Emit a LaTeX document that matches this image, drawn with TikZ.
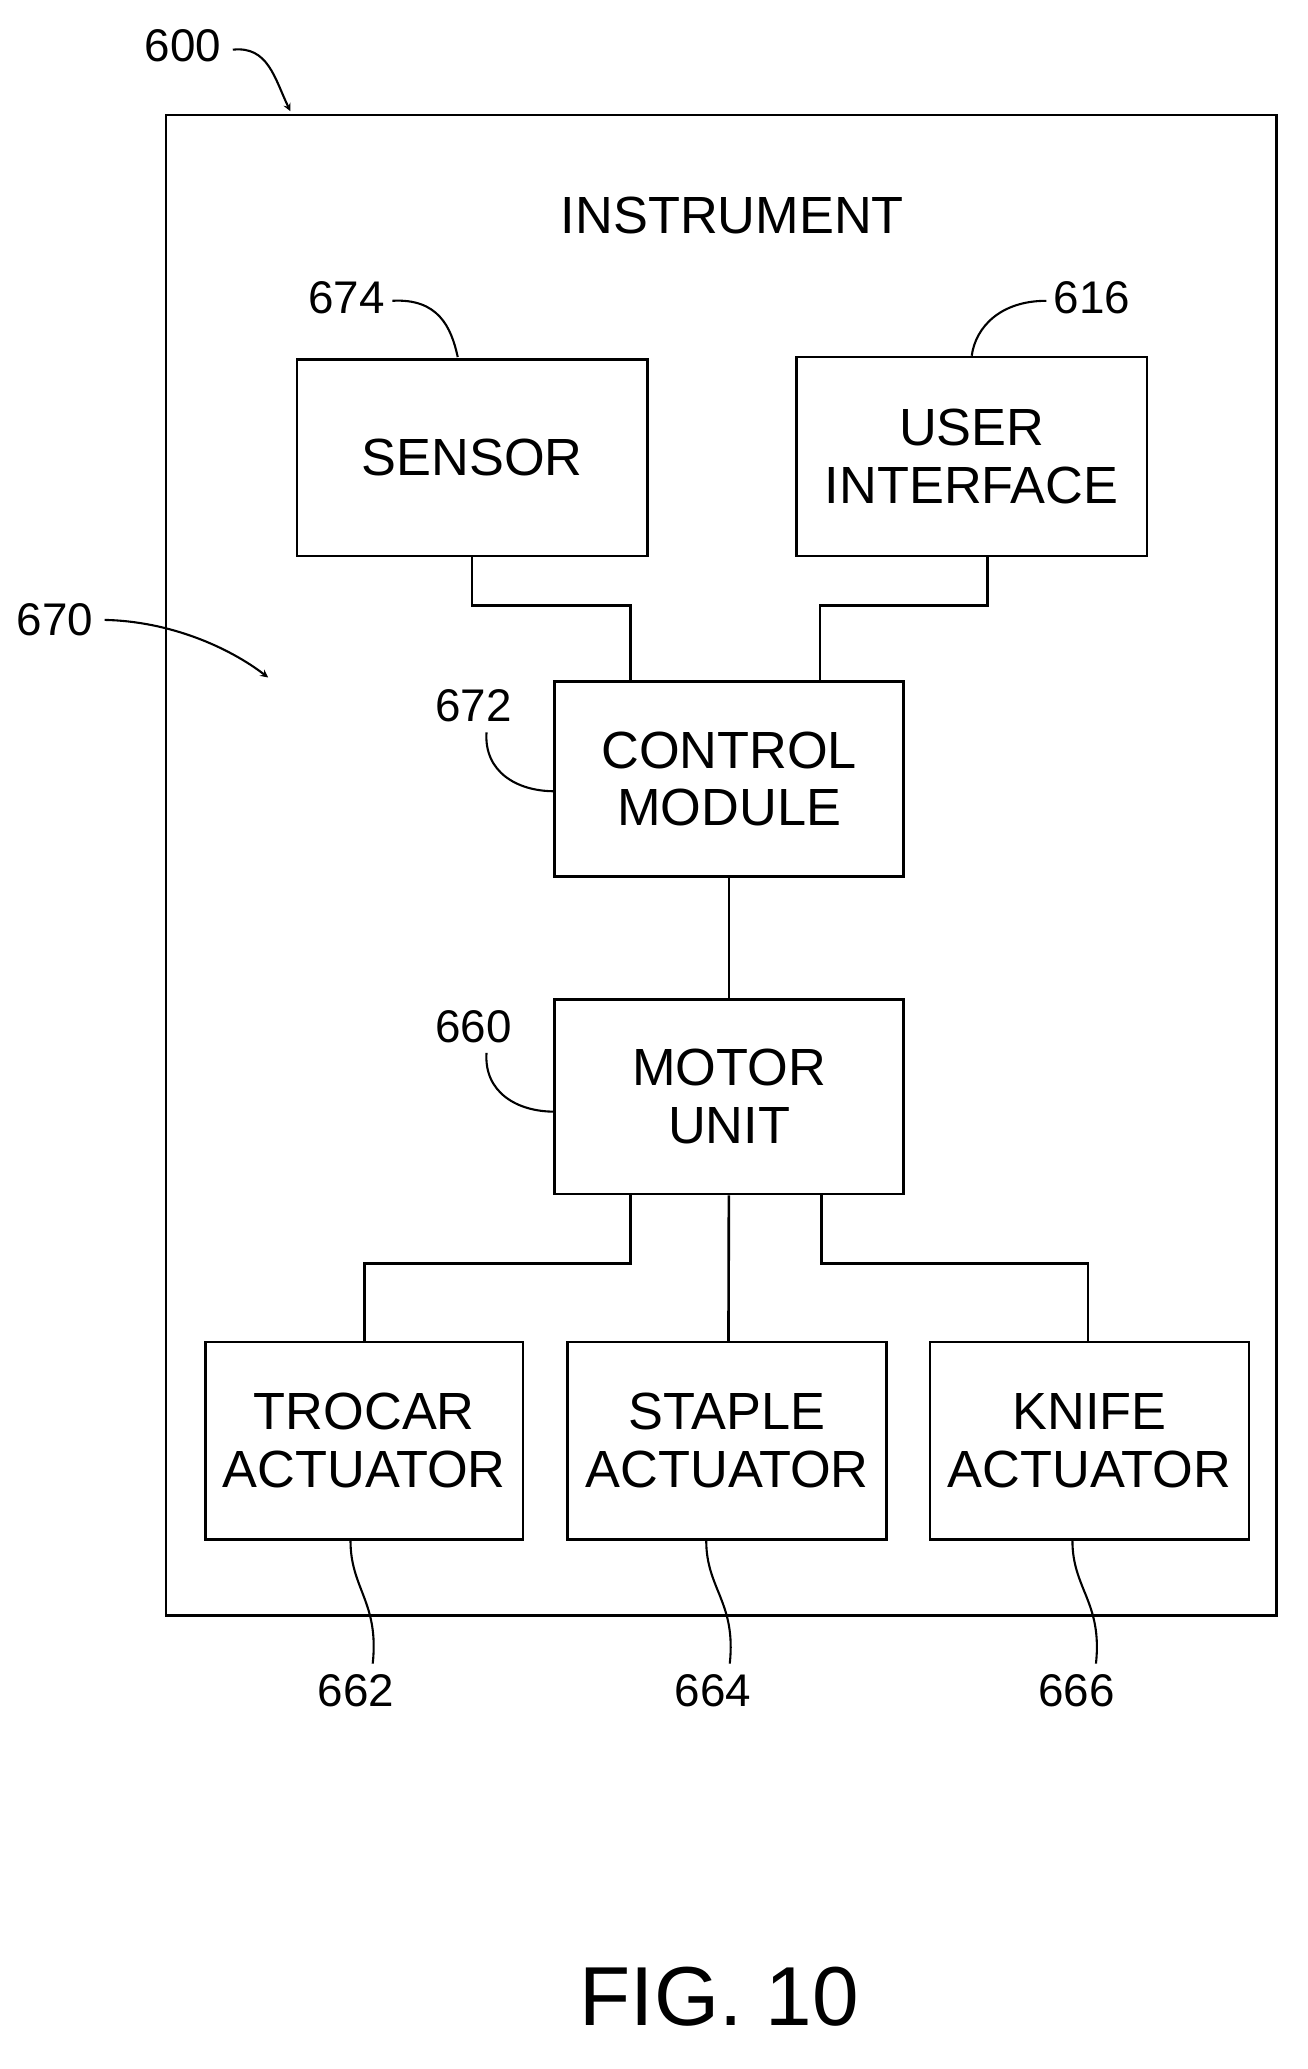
\documentclass[tikz,border=0pt]{standalone}
\usepackage{fontspec}
\setmainfont{Liberation Sans}
\begin{document}
\begin{tikzpicture}[x=1pt,y=-1pt,line width=2pt,
  box/.style={draw,line width=2pt,align=center,font=\fontsize{40}{44}\selectfont,inner sep=0pt},
  num/.style={font=\fontsize{35}{38}\selectfont},
  lead/.style={line width=1.6pt}]
\useasboundingbox (0,0) rectangle (1000,1582);
\node[draw,line width=2pt,minimum width=849pt,minimum height=1147pt,anchor=north west] (outer) at (126,87) {};
\node[font=\fontsize{40}{44}\selectfont] (title) at (560,165) {INSTRUMENT};
\node[box,minimum width=268pt,minimum height=150pt] (sen) at (361,350) {SENSOR};
\node[box,minimum width=268pt,minimum height=152pt] (ui) at (743,349) {USER\\INTERFACE};
\node[box,minimum width=267pt,minimum height=149pt] (cm) at (557.5,595.5) {CONTROL\\MODULE};
\node[box,minimum width=267pt,minimum height=149pt] (mu) at (557.5,838.5) {MOTOR\\UNIT};
\node[box,minimum width=243pt,minimum height=151pt] (tr) at (278.5,1101.5) {TROCAR\\ACTUATOR};
\node[box,minimum width=244pt,minimum height=151pt] (st) at (556,1101.5) {STAPLE\\ACTUATOR};
\node[box,minimum width=244pt,minimum height=151pt] (kn) at (833,1101.5) {KNIFE\\ACTUATOR};
\draw (sen.south) -- ++(0,37) -| (482,521);
\draw (ui.south) ++(12,0) -- ++(0,37) -| (627,521);
\draw (cm) -- (mu);
\draw (482,913) -- (482,966) -| (tr.north);
\draw (mu) -- (557,1026);
\draw (628,913) -- (628,966) -| (832,1026);
% labels
\node[num] (n600) at (140,35) {600};
\draw[lead,->,>=stealth] (178,38) .. controls (205,35) and (210,60) .. (222,85);
\node[num] (n674) at (265,228) {674};
\draw[lead] (300,230) .. controls (335,228) and (345,250) .. (350,273);
\node[num] (n616) at (835,228) {616};
\draw[lead] (800,230) .. controls (765,230) and (746,250) .. (743,272);
\node[num] (n670) at (42,474) {670};
\draw[lead,->,>=stealth] (80,474) .. controls (130,475) and (175,495) .. (205,518);
\node[num] (n672) at (362,540) {672};
\draw[lead] (372,560) .. controls (370,590) and (395,605) .. (424,605);
\node[num] (n660) at (362,785) {660};
\draw[lead] (372,805) .. controls (370,835) and (395,850) .. (424,850);
\node[num] (n662) at (272,1293) {662};
\draw[lead] (268,1178) .. controls (268,1215) and (290,1225) .. (285,1272);
\node[num] (n664) at (545,1293) {664};
\draw[lead] (540,1178) .. controls (540,1215) and (563,1225) .. (558,1272);
\node[num] (n666) at (823,1293) {666};
\draw[lead] (820,1178) .. controls (820,1215) and (843,1225) .. (838,1272);
\node[font=\fontsize{64}{70}\selectfont] (fig) at (550,1527) {FIG. 10};
\end{tikzpicture}
\end{document}
